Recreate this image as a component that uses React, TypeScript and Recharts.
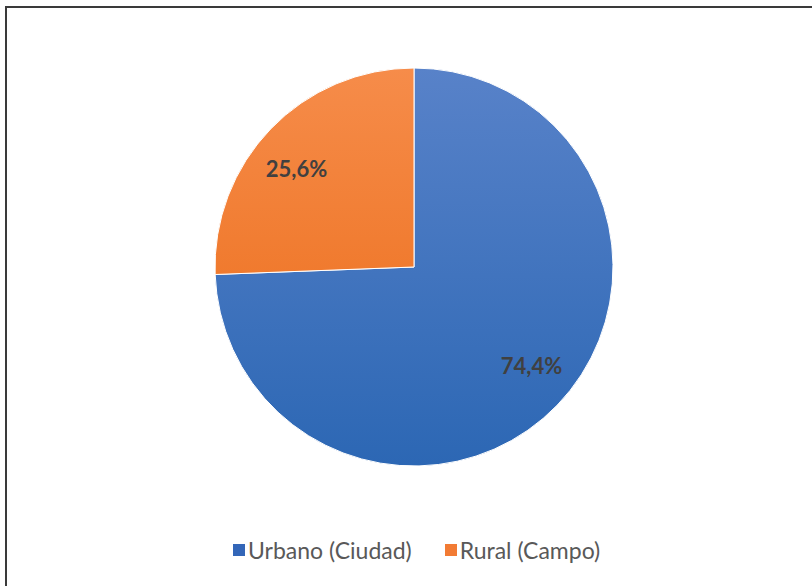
import React from "react";
import { PieChart, Pie, Cell } from "recharts";

const categories = ["Urbano (Ciudad)", "Rural (Campo)"];
const values = [74.4, 25.6];
const labels = ["74,4%", "25,6%"];

const data = categories.map((name, i) => ({ name, value: values[i], label: labels[i] }));

const gradIds = ["gUrb", "gRur"];
const swatch = ["#3366B8", "#F27B34"];

const RADIAN = Math.PI / 180;

const renderLabel = (props: any) => {
  const { cx, cy, midAngle, outerRadius, index } = props;
  const r = outerRadius * 0.77;
  const a = midAngle + 4;
  const x = cx + r * Math.cos(-a * RADIAN);
  const y = cy + r * Math.sin(-a * RADIAN);
  return (
    <text
      x={x}
      y={y}
      fill="#404040"
      textAnchor="middle"
      dominantBaseline="central"
      style={{ fontFamily: "Lato, 'Open Sans', sans-serif", fontWeight: 700, fontSize: 22 }}
    >
      {data[index].label}
    </text>
  );
};

export default function App() {
  return (
    <div
      style={{
        position: "absolute",
        top: 0,
        left: 0,
        width: 812,
        height: 586,
        background: "#fff",
      }}
    >
      <div
        style={{
          position: "absolute",
          top: 6,
          left: 5,
          right: 0,
          bottom: 0,
          borderTop: "2px solid #3a3a3a",
          borderLeft: "2px solid #3a3a3a",
        }}
      />
      <PieChart
        width={812}
        height={586}
        margin={{ top: 0, right: 0, bottom: 0, left: 0 }}
        style={{ position: "absolute", top: 0, left: 0 }}
      >
        <defs>
          <linearGradient id="gUrb" x1="0" y1="0" x2="0" y2="1">
            <stop offset="0%" stopColor="#5882C9" />
            <stop offset="100%" stopColor="#2C67B4" />
          </linearGradient>
          <linearGradient id="gRur" x1="0" y1="0" x2="0" y2="1">
            <stop offset="0%" stopColor="#F68C4A" />
            <stop offset="100%" stopColor="#F07A2E" />
          </linearGradient>
        </defs>
        <Pie
          data={data}
          dataKey="value"
          nameKey="name"
          cx={414}
          cy={267}
          outerRadius={199}
          startAngle={90}
          endAngle={-270}
          stroke="#ffffff"
          strokeWidth={1}
          label={renderLabel}
          labelLine={false}
          isAnimationActive={false}
        >
          {data.map((d, i) => (
            <Cell key={d.name} fill={`url(#${gradIds[i]})`} />
          ))}
        </Pie>
      </PieChart>
      <div
        style={{
          position: "absolute",
          top: 536,
          left: 233,
          height: 28,
          display: "flex",
          alignItems: "center",
          fontFamily: "Lato, 'Open Sans', sans-serif",
          fontSize: 23,
          color: "#595959",
          whiteSpace: "nowrap",
        }}
      >
        {categories.map((c, i) => (
          <div key={c} style={{ display: "flex", alignItems: "center", marginRight: i === 0 ? 33 : 0 }}>
            <span
              style={{
                display: "inline-block",
                width: 12,
                height: 12,
                background: swatch[i],
                marginRight: 3,
              }}
            />
            <span>{c}</span>
          </div>
        ))}
      </div>
    </div>
  );
}
